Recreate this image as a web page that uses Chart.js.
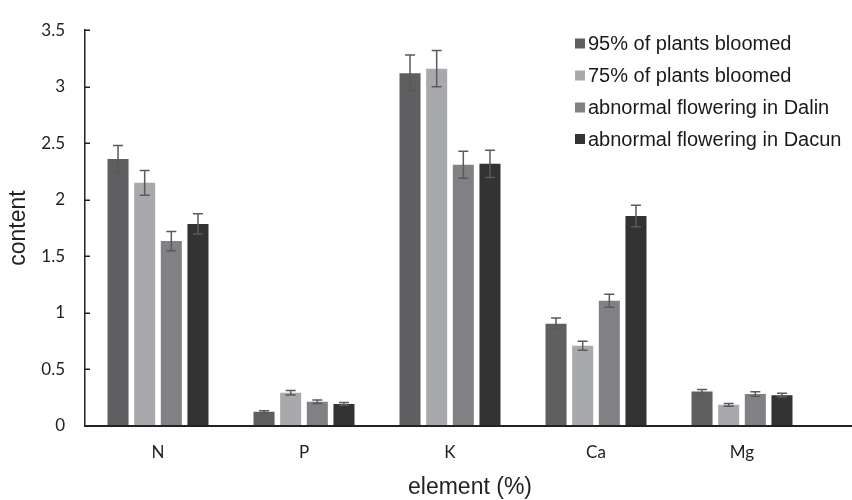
<!DOCTYPE html>
<html><head><meta charset="utf-8">
<script src="https://cdn.jsdelivr.net/npm/chart.js@4"></script>
<style>html,body{margin:0;padding:0;background:#fff}#wrap{width:852px;height:500px;position:relative}</style>
</head><body><div id="wrap"><canvas id="c" width="852" height="500"></canvas></div>
<script>
const categories = ['N', 'P', 'K', 'Ca', 'Mg'];
const seriesNames = ['95% of plants bloomed', '75% of plants bloomed', 'abnormal flowering in Dalin', 'abnormal flowering in Dacun'];
const bloom95 = [2.36, 0.125, 3.12, 0.905, 0.305];
const bloom95Err = [0.12, 0.01, 0.16, 0.05, 0.017];
const bloom75 = [2.15, 0.295, 3.16, 0.71, 0.187];
const bloom75Err = [0.11, 0.02, 0.16, 0.04, 0.012];
const dalin = [1.635, 0.215, 2.31, 1.107, 0.282];
const dalinErr = [0.085, 0.015, 0.12, 0.057, 0.02];
const dacun = [1.787, 0.195, 2.318, 1.857, 0.273];
const dacunErr = [0.09, 0.012, 0.12, 0.095, 0.017];
const yTicks = [0, 0.5, 1, 1.5, 2, 2.5, 3, 3.5];
const xTitle = 'element (%)';
const yTitle = 'content';

const colors = ['#5f5f61', '#a8a9ac', '#808184', '#333333'];
const values = [bloom95, bloom75, dalin, dacun];
const errors = [bloom95Err, bloom75Err, dalinErr, dacunErr];

const datasets = seriesNames.map((name, i) => ({
  label: name,
  data: values[i],
  errors: errors[i],
  backgroundColor: colors[i],
  borderWidth: 0,
  categoryPercentage: 0.73,
  barPercentage: 0.79
}));

const decorPlugin = {
  id: 'decor',
  afterDatasetsDraw(chart) {
    const ctx = chart.ctx;
    const ys = chart.scales.y;
    ctx.save();
    ctx.strokeStyle = '#5a5a5a';
    ctx.lineWidth = 1.5;
    chart.data.datasets.forEach((ds, i) => {
      const meta = chart.getDatasetMeta(i);
      meta.data.forEach((bar, j) => {
        const v = ds.data[j], e = ds.errors[j];
        const yt = ys.getPixelForValue(v + e);
        const yb = ys.getPixelForValue(v - e);
        const x = bar.x;
        ctx.beginPath();
        ctx.moveTo(x, yt); ctx.lineTo(x, yb);
        ctx.moveTo(x - 5, yt); ctx.lineTo(x + 5, yt);
        ctx.moveTo(x - 5, yb); ctx.lineTo(x + 5, yb);
        ctx.stroke();
      });
    });
    ctx.restore();
  },
  afterDraw(chart) {
    const ctx = chart.ctx;
    const ca = chart.chartArea;
    const ys = chart.scales.y;
    ctx.save();
    // x axis line
    ctx.strokeStyle = '#222';
    ctx.lineWidth = 2;
    ctx.beginPath();
    ctx.moveTo(ca.left, ca.bottom);
    ctx.lineTo(chart.width, ca.bottom);
    ctx.stroke();
    // inner ticks on y axis
    ctx.lineWidth = 1.5;
    ctx.beginPath();
    yTicks.forEach(t => {
      const y = Math.round(ys.getPixelForValue(t)) + 0.25;
      ctx.moveTo(ca.left, y); ctx.lineTo(ca.left + 5, y);
    });
    ctx.stroke();
    // x axis title
    ctx.fillStyle = '#222';
    ctx.font = '23px "Liberation Sans", Arial, sans-serif';
    ctx.textAlign = 'center';
    ctx.textBaseline = 'alphabetic';
    ctx.fillText(xTitle, 470, 494);
    // legend
    const rows = [43.5, 75.5, 107.5, 139];
    ctx.font = '20px "Liberation Sans", Arial, sans-serif';
    ctx.textAlign = 'left';
    ctx.textBaseline = 'middle';
    chart.data.datasets.forEach((ds, i) => {
      ctx.fillStyle = ds.backgroundColor;
      ctx.fillRect(575, rows[i] - 5, 10, 10);
      ctx.fillStyle = '#1a1a1a';
      ctx.fillText(ds.label, 588, rows[i] + 1);
    });
    ctx.restore();
  }
};

new Chart(document.getElementById('c'), {
  type: 'bar',
  data: { labels: categories, datasets },
  options: {
    responsive: false,
    devicePixelRatio: 1,
    animation: false,
    layout: { padding: { left: 0, top: 19, right: 37, bottom: 0 } },
    plugins: { legend: { display: false }, tooltip: { enabled: false } },
    scales: {
      x: {
        grid: { display: false, drawTicks: false },
        border: { display: false },
        ticks: { color: '#222', font: { family: 'Lato, "Open Sans", sans-serif', size: 17 }, padding: 16 },
        afterFit(s) { s.height = 74; }
      },
      y: {
        min: 0, max: 3.5,
        afterBuildTicks(s) { s.ticks = yTicks.map(v => ({ value: v })); },
        grid: { display: false, drawTicks: false },
        border: { display: true, color: '#222', width: 1.5 },
        ticks: { color: '#222', font: { family: 'Lato, "Open Sans", sans-serif', size: 17 }, padding: 20,
          callback: v => String(v) },
        title: { display: true, text: yTitle, color: '#222', font: { family: '"Liberation Sans", Arial, sans-serif', size: 23 }, padding: { top: 5, bottom: 0 } },
        afterFit(s) { s.width = 85; }
      }
    }
  },
  plugins: [decorPlugin]
});
</script>
</body></html>
